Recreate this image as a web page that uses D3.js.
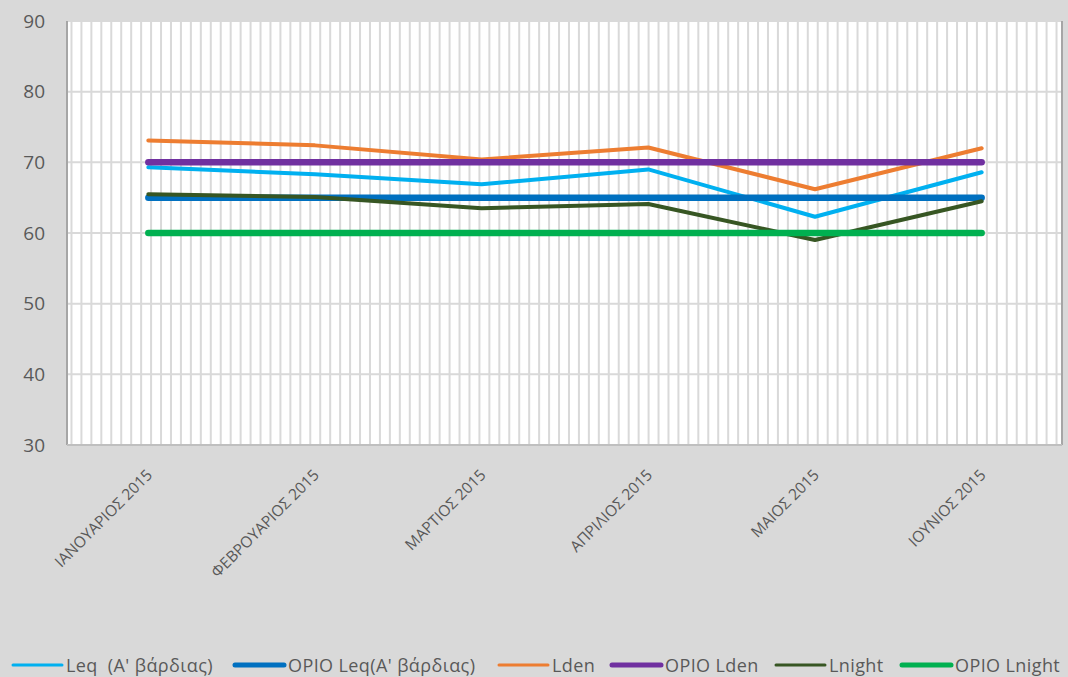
<!DOCTYPE html>
<html>
<head>
<meta charset="utf-8">
<script src="https://cdn.jsdelivr.net/npm/d3@7"></script>
<style>
  body { margin: 0; background: #d9d9d9; }
  svg { display: block; font-family: "Open Sans", sans-serif; }
</style>
</head>
<body>
<svg width="1068" height="677"></svg>
<script>
// Δεδομένα
const months = ['ΙΑΝΟΥΑΡΙΟΣ 2015', 'ΦΕΒΡΟΥΑΡΙΟΣ 2015', 'ΜΑΡΤΙΟΣ 2015', 'ΑΠΡΙΛΙΟΣ 2015', 'ΜΑΙΟΣ 2015', 'ΙΟΥΝΙΟΣ 2015'];
const leq = [69.3, 68.3, 66.9, 69.0, 62.3, 68.6];
const opioLeq = [65, 65, 65, 65, 65, 65];
const lden = [73.1, 72.4, 70.4, 72.1, 66.2, 72.0];
const opioLden = [70, 70, 70, 70, 70, 70];
const lnight = [65.5, 65.1, 63.5, 64.1, 59.0, 64.5];
const opioLnight = [60, 60, 60, 60, 60, 60];
const yTicks = [30, 40, 50, 60, 70, 80, 90];

const series = [
    { name: 'Leq  (A\' βάρδιας)', values: leq, color: '#00b0f0', width: 4, legendWidth: 3 },
    { name: 'OPIO Leq(A\' βάρδιας)', values: opioLeq, color: '#0070c0', width: 6.5, legendWidth: 5 },
    { name: 'Lden', values: lden, color: '#ed7d31', width: 4, legendWidth: 3 },
    { name: 'OPIO Lden', values: opioLden, color: '#7030a0', width: 6.5, legendWidth: 5 },
    { name: 'Lnight', values: lnight, color: '#375623', width: 4, legendWidth: 3 },
    { name: 'OPIO Lnight', values: opioLnight, color: '#00b050', width: 6.5, legendWidth: 5 }
];

// Διαστάσεις
const plotLeft = 67, plotRight = 1062, plotTop = 21, plotBottom = 445;
const legendY = 665;
const legendStarts = [13, 235, 499, 612, 776, 902]; // αρχή κάθε στοιχείου υπομνήματος
const svg = d3.select('svg');

const x = d3.scalePoint()
    .domain(months)
    .range([plotLeft - 2, plotRight + 3])
    .padding(0.5);

const y = d3.scaleLinear()
    .domain([30, 90])
    .range([plotBottom, plotTop]);

// Περιοχή σχεδίασης
svg.append('rect')
    .attr('x', plotLeft).attr('y', plotTop)
    .attr('width', plotRight - plotLeft).attr('height', plotBottom - plotTop)
    .attr('fill', '#ffffff');

// Δευτερεύουσες κάθετες γραμμές πλέγματος
const xMinor = d3.scaleLinear().domain([0, 6]).range([plotLeft, plotRight]);
svg.append('g')
    .selectAll('line')
    .data(d3.range(0.027, 5.99, 0.06))
    .enter().append('line')
    .attr('x1', d => xMinor(d)).attr('x2', d => xMinor(d))
    .attr('y1', plotTop).attr('y2', plotBottom + 3)
    .attr('stroke', '#d9d9d9')
    .attr('stroke-width', 2);

// Οριζόντιες γραμμές πλέγματος
svg.append('g')
    .selectAll('line')
    .data(yTicks.slice(1))
    .enter().append('line')
    .attr('x1', plotLeft).attr('x2', plotRight)
    .attr('y1', d => y(d)).attr('y2', d => y(d))
    .attr('stroke', '#d9d9d9')
    .attr('stroke-width', 2);

// Άξονες
svg.append('line')
    .attr('x1', plotLeft).attr('x2', plotLeft)
    .attr('y1', plotTop).attr('y2', plotBottom)
    .attr('stroke', '#a6a6a6').attr('stroke-width', 2);
svg.append('line')
    .attr('x1', plotRight).attr('x2', plotRight)
    .attr('y1', plotTop).attr('y2', plotBottom)
    .attr('stroke', '#a6a6a6').attr('stroke-width', 2);
svg.append('line')
    .attr('x1', plotLeft).attr('x2', plotRight)
    .attr('y1', plotBottom).attr('y2', plotBottom)
    .attr('stroke', '#bfbfbf').attr('stroke-width', 2);

// Ετικέτες άξονα Y
const yAxis = d3.axisLeft(y).tickValues(yTicks).tickSize(0).tickPadding(22);
const yG = svg.append('g')
    .attr('transform', `translate(${plotLeft},0)`)
    .call(yAxis);
yG.select('.domain').remove();
yG.selectAll('text')
    .attr('fill', '#595959')
    .style('font-size', '19px')
    .style('font-family', '"Open Sans", sans-serif');

// Ετικέτες άξονα X
svg.append('g')
    .selectAll('text')
    .data(months)
    .enter().append('text')
    .attr('transform', d => `translate(${x(d) + 5},${plotBottom + 31}) rotate(-45)`)
    .attr('text-anchor', 'end')
    .attr('fill', '#595959')
    .style('font-size', '15.5px')
    .text(d => d);

// Γραμμές σειρών
const line = d3.line()
    .x((d, i) => x(months[i]))
    .y(d => y(d));

svg.append('g')
    .selectAll('path')
    .data(series)
    .enter().append('path')
    .attr('d', s => line(s.values))
    .attr('fill', 'none')
    .attr('stroke', s => s.color)
    .attr('stroke-width', s => s.width)
    .attr('stroke-linecap', 'round')
    .attr('stroke-linejoin', 'round');

// Υπόμνημα
const legendItems = svg.append('g')
    .selectAll('g')
    .data(series)
    .enter().append('g')
    .attr('transform', (s, i) => `translate(${legendStarts[i]},${legendY})`);

legendItems.append('line')
    .attr('x1', 0).attr('x2', 49)
    .attr('y1', 0).attr('y2', 0)
    .attr('stroke', s => s.color)
    .attr('stroke-width', s => s.legendWidth)
    .attr('stroke-linecap', 'round');

legendItems.append('text')
    .attr('x', 53).attr('y', 6.5)
    .attr('fill', '#595959')
    .style('font-size', '18px')
    .style('letter-spacing', '0.4px')
    .style('white-space', 'pre')
    .text(s => s.name);
</script>
</body>
</html>
